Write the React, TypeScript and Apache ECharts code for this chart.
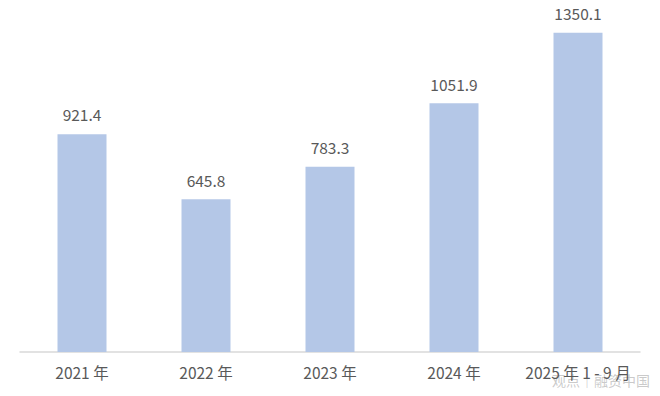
import React, { useEffect, useRef } from "react";
import * as echarts from "echarts";

const categories = ["2021 年", "2022 年", "2023 年", "2024 年", "2025 年 1 - 9 月"];
const values = [921.4, 645.8, 783.3, 1051.9, 1350.1];

export default function App() {
  const ref = useRef<HTMLDivElement>(null);
  useEffect(() => {
    if (!ref.current) return;
    const chart = echarts.init(ref.current, undefined, { renderer: "svg" });
    const font = "'Noto Sans CJK SC', 'Noto Sans', sans-serif";
    chart.setOption({
      animation: false,
      backgroundColor: "#ffffff",
      grid: { left: 20, right: 20, top: 21, bottom: 44, containLabel: false },
      xAxis: {
        type: "category",
        data: categories,
        axisLine: { lineStyle: { color: "#D9D9D9", width: 1.5 } },
        axisTick: { show: false },
        axisLabel: { color: "#595959", fontSize: 15.5, margin: 12, fontFamily: font, interval: 0 },
      },
      yAxis: {
        type: "value",
        min: 0,
        max: 1400,
        show: false,
        splitLine: { show: false },
      },
      series: [
        {
          type: "bar",
          data: values,
          barWidth: 49,
          itemStyle: { color: "#B4C7E7" },
          label: {
            show: true,
            position: "top",
            distance: 12,
            color: "#595959",
            fontSize: 15.5,
            fontFamily: font,
            formatter: (p: any) => p.value.toFixed(1),
          },
        },
      ],
      graphic: [
        {
          type: "text",
          right: 10,
          top: 373,
          style: {
            text: "观点｜融资中国",
            fill: "rgba(150,150,150,0.5)",
            fontSize: 14,
            fontFamily: font,
          },
        },
      ],
    });
    return () => chart.dispose();
  }, []);
  return <div ref={ref} style={{ width: 660, height: 396, position: "absolute", left: 0, top: 0 }} />;
}
